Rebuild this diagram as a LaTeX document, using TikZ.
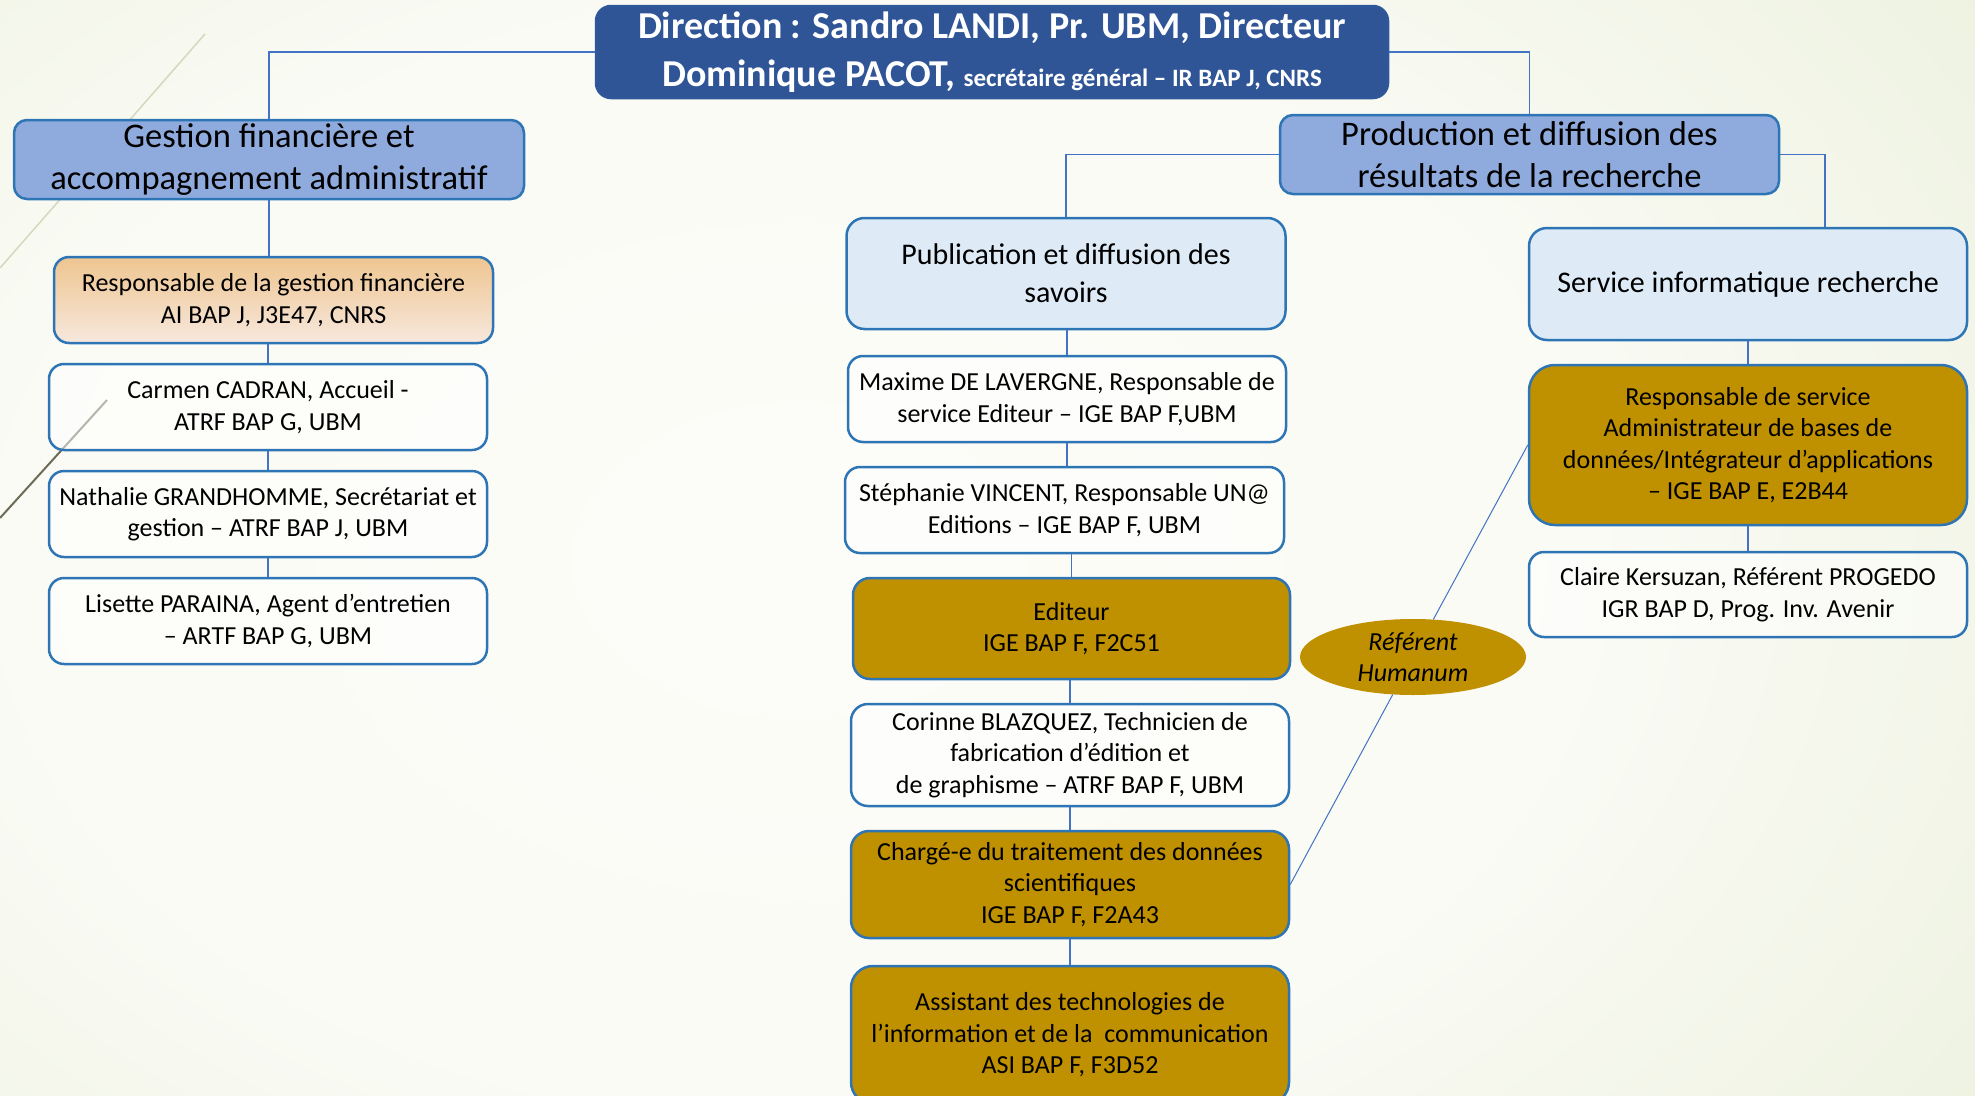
\documentclass[tikz,border=0pt]{standalone}
\usepackage{fontspec}
\setmainfont{Carlito}
\usetikzlibrary{shapes.geometric}
\definecolor{dirblue}{HTML}{2F5597}
\definecolor{bord}{HTML}{2E75B6}
\definecolor{midblue}{HTML}{8FAADC}
\definecolor{lightblue}{HTML}{DEEBF7}
\definecolor{gold}{HTML}{BF9000}
\definecolor{conn}{HTML}{4472C4}
\definecolor{rgftop}{HTML}{EEC590}
\definecolor{rgfbot}{HTML}{F7E8DD}
\definecolor{deco1}{HTML}{D2D9BF}
\definecolor{deco2}{HTML}{6E6C58}
\pgfdeclareradialshading{bgrad}{\pgfpoint{0bp}{0bp}}{rgb(0bp)=(0.99,0.99,0.975); rgb(16bp)=(0.982,0.984,0.96); rgb(42bp)=(0.885,0.918,0.81); rgb(50bp)=(0.87,0.905,0.785)}
\tikzset{
  box/.style={draw=bord, line width=2.5pt, rounded corners=15pt, align=center, inner sep=0pt,
    font=\fontsize{26}{31.5}\selectfont, text=black},
  wbox/.style={box, fill=white, fill opacity=0.5, text opacity=1},
  gbox/.style={box, fill=gold},
  lbox/.style={box, fill=lightblue, rounded corners=18pt, font=\fontsize{30}{38}\selectfont},
  mbox/.style={box, fill=midblue, rounded corners=13pt, font=\fontsize{34.5}{42}\selectfont},
  link/.style={draw=conn, line width=1.3pt},
}
\begin{document}
\begin{tikzpicture}[x=1pt, y=-1pt]
\useasboundingbox (0,0) rectangle (1975,1095);
% background
\begin{scope}
\clip (0,0) rectangle (1975,1095);
\shade[shading=bgrad] (-420,-290) rectangle (2020,1410);
\end{scope}
% decorative lines
\draw[deco1, line width=1.5pt] (205,34) -- (0,268);
\draw[deco2, line width=2pt] (107,400) -- (0,518);

% top
\node[box, fill=dirblue, draw=dirblue!90!bord, text=white, font=\bfseries\fontsize{38}{47.5}\selectfont,
      minimum width=792pt, minimum height=92pt] (dir) at (992,52)
  {Direction : Sandro LANDI, Pr. UBM, Directeur\\Dominique PACOT, {\fontsize{25}{30}\selectfont secrétaire général – IR BAP J, CNRS}};

\node[mbox, minimum width=510pt, minimum height=79pt] (gest) at (269,159.5)
  {Gestion financière et\\accompagnement administratif};
\node[mbox, minimum width=499pt, minimum height=79pt] (prod) at (1529.5,154.5)
  {Production et diffusion des\\résultats de la recherche};

% left column
\node[box, top color=rgftop, bottom color=rgfbot, minimum width=439pt, minimum height=86pt] (rgf) at (273.5,300)
  {Responsable de la gestion financière\\AI BAP J, J3E47, CNRS};
\node[wbox, minimum width=438pt, minimum height=86pt] (carmen) at (268,407)
  {Carmen CADRAN, Accueil -\\ATRF BAP G, UBM};
\node[wbox, minimum width=438pt, minimum height=86pt] (nath) at (268,514)
  {Nathalie GRANDHOMME, Secrétariat et\\gestion – ATRF BAP J, UBM};
\node[wbox, minimum width=438pt, minimum height=86pt] (lis) at (268,621)
  {Lisette PARAINA, Agent d’entretien\\– ARTF BAP G, UBM};

% middle column
\node[lbox, minimum width=439pt, minimum height=111pt] (pub) at (1066,273.5)
  {Publication et diffusion des\\savoirs};
\node[wbox, minimum width=438pt, minimum height=86pt] (max) at (1067,399)
  {Maxime DE LAVERGNE, Responsable de\\service Editeur – IGE BAP F,UBM};
\node[wbox, minimum width=439pt, minimum height=86pt] (steph) at (1064.5,510)
  {Stéphanie VINCENT, Responsable UN@\\Editions – IGE BAP F, UBM};
\node[gbox, minimum width=437pt, minimum height=101pt, rounded corners=17pt] (edit) at (1071.5,628.5)
  {Editeur\\IGE BAP F, F2C51};
\node[wbox, minimum width=438pt, minimum height=102pt, rounded corners=17pt] (cor) at (1070,755)
  {Corinne BLAZQUEZ, Technicien de\\fabrication d’édition et\\de graphisme – ATRF BAP F, UBM};
\node[gbox, minimum width=438pt, minimum height=107pt, rounded corners=18pt] (charg) at (1070,884.5)
  {Chargé-e du traitement des données\\scientifiques\\IGE BAP F, F2A43};
\node[gbox, minimum width=438pt, minimum height=138pt, rounded corners=22pt] (asst) at (1070,1035)
  {Assistant des technologies de\\l’information et de la \ communication\\ASI BAP F, F3D52};

% right column
\node[lbox, minimum width=438pt, minimum height=112pt] (serv) at (1748,284)
  {Service informatique recherche};
\node[gbox, minimum width=438pt, minimum height=160pt, rounded corners=26pt] (resp) at (1748,445)
  {Responsable de service\\Administrateur de bases de\\données/Intégrateur d’applications\\– IGE BAP E, E2B44};
\node[wbox, minimum width=438pt, minimum height=85pt] (claire) at (1748,594.5)
  {Claire Kersuzan, Référent PROGEDO\\IGR BAP D, Prog. Inv. Avenir};

% ellipse
\node[ellipse, fill=gold, minimum width=226pt, minimum height=76pt, inner sep=0pt, align=center,
      font=\itshape\fontsize{26}{31.5}\selectfont] (ell) at (1413,657) {Référent\\Humanum};

% connectors
\coordinate (sjx) at (1825,0);
\draw[link] (dir.west) -| (gest.north);
\draw[link] (dir.east) -| (prod.north);
\draw[link] (prod.west) -| (pub.north);
\draw[link] (prod.east) -| (sjx |- serv.north);
\draw[link] (gest.south) -- (gest.south |- rgf.north);
\draw[link] (carmen.north) -- (carmen.north |- rgf.south);
\draw[link] (carmen.south) -- (nath.north);
\draw[link] (nath.south) -- (lis.north);
\draw[link] (max.north) -- (max.north |- pub.south);
\draw[link] (max.south) -- (max.south |- steph.north);
\draw[link] (edit.north) -- (edit.north |- steph.south);
\draw[link] (cor.north) -- (cor.north |- edit.south);
\draw[link] (cor.south) -- (charg.north);
\draw[link] (charg.south) -- (asst.north);
\draw[link] (serv.south) -- (resp.north);
\draw[link] (resp.south) -- (claire.north);
\draw[link, line width=1pt] (ell) -- (resp.west);
\draw[link, line width=1pt] (ell) -- (charg.east);
\end{tikzpicture}
\end{document}
